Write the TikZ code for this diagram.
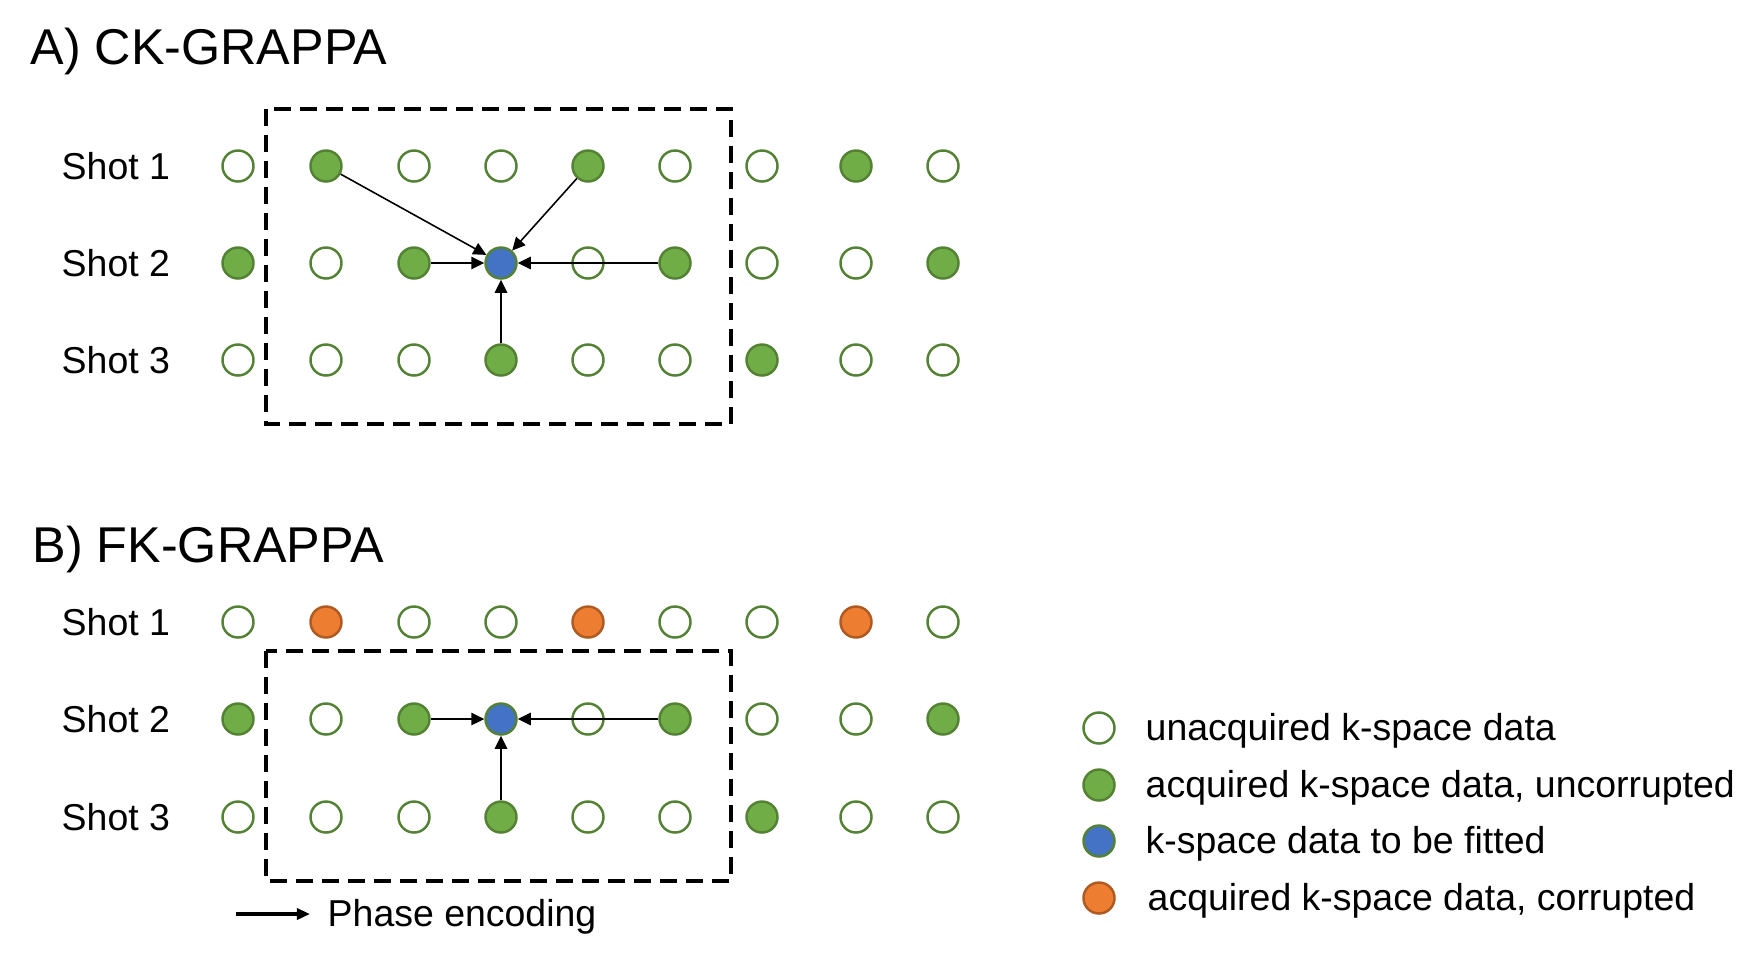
\documentclass[tikz,border=0pt]{standalone}
\usepackage{fontspec}
\setmainfont{Liberation Sans}
\usepackage{xcolor}
\definecolor{fille}{RGB}{255, 255, 255}
\definecolor{linee}{RGB}{84, 130, 53}
\definecolor{fillg}{RGB}{112, 173, 71}
\definecolor{lineg}{RGB}{84, 130, 53}
\definecolor{fillb}{RGB}{68, 114, 196}
\definecolor{lineb}{RGB}{84, 130, 53}
\definecolor{fillo}{RGB}{237, 125, 49}
\definecolor{lineo}{RGB}{174, 90, 33}
\usetikzlibrary{arrows.meta}

\begin{document}
\begin{tikzpicture}[x=0.01cm, y=-0.01cm,
    dot/.style={circle, inner sep=0pt, minimum size=0.31cm, line width=0.7pt, draw=line#1, fill=fill#1},
    lbl/.style={anchor=base west, inner sep=0pt, font=\fontsize{10.65}{12}\selectfont},
    ttl/.style={anchor=base west, inner sep=0pt, font=\fontsize{14.3}{17}\selectfont},
    kbox/.style={dash pattern=on 0.17cm off 0.09cm, line width=1.05pt},
    arr/.style={-{Triangle[length=0.13cm, width=0.125cm]}, line width=0.45pt},
    pearr/.style={-{Triangle[length=0.13cm, width=0.11cm]}, line width=0.95pt}
  ]
    \useasboundingbox (0,0) rectangle (1757,959);

    % titles and row labels
    \node[ttl] (ta) at (30,64) {A) CK-GRAPPA};
    \node[ttl] (tb) at (32,562) {B) FK-GRAPPA};
    \node[lbl] (sa1) at (61,179) {Shot 1};
    \node[lbl] (sa2) at (61,276) {Shot 2};
    \node[lbl] (sa3) at (61,373) {Shot 3};
    \node[lbl] (sb1) at (61,635) {Shot 1};
    \node[lbl] (sb2) at (61,732) {Shot 2};
    \node[lbl] (sb3) at (61,830) {Shot 3};

    % kernels
    \draw[kbox] (266,109) rectangle (731,424);
    \draw[kbox] (266,651) rectangle (731,881);

    % A) CK-GRAPPA grid
    \foreach \x/\t [count=\i] in {238/e,326/g,414/e,501/e,588/g,675/e,762/e,856/g,943/e}
      \node[dot=\t] (a1-\i) at (\x,166) {};
    \foreach \x/\t [count=\i] in {238/g,326/e,414/g,501/b,588/e,675/g,762/e,856/e,943/g}
      \node[dot=\t] (a2-\i) at (\x,263) {};
    \foreach \x/\t [count=\i] in {238/e,326/e,414/e,501/g,588/e,675/e,762/g,856/e,943/e}
      \node[dot=\t] (a3-\i) at (\x,360) {};

    % B) FK-GRAPPA grid
    \foreach \x/\t [count=\i] in {238/e,326/o,414/e,501/e,588/o,675/e,762/e,856/o,943/e}
      \node[dot=\t] (b1-\i) at (\x,622) {};
    \foreach \x/\t [count=\i] in {238/g,326/e,414/g,501/b,588/e,675/g,762/e,856/e,943/g}
      \node[dot=\t] (b2-\i) at (\x,719) {};
    \foreach \x/\t [count=\i] in {238/e,326/e,414/e,501/g,588/e,675/e,762/g,856/e,943/e}
      \node[dot=\t] (b3-\i) at (\x,817) {};

    \draw[arr] (a1-2) -- (a2-4);
    \draw[arr] (a1-5) -- (a2-4);
    \draw[arr] (a2-3) -- (a2-4);
    \draw[arr] (a2-6) -- (a2-4);
    \draw[arr] (a3-4) -- (a2-4);

    \draw[arr] (b2-3) -- (b2-4);
    \draw[arr] (b2-6) -- (b2-4);
    \draw[arr] (b3-4) -- (b2-4);

    % phase encoding direction
    \coordinate (pe-a) at (236,914);
    \coordinate (pe-b) at (310,914);
    \draw[pearr] (pe-a) -- (pe-b);
    \node[lbl] (pe) at (327,926) {Phase encoding};

    % legend
    \node[dot=e] (leg1) at (1099,728) {};
    \node[dot=g] (leg2) at (1099,785) {};
    \node[dot=b] (leg3) at (1099,841) {};
    \node[dot=o] (leg4) at (1099,898) {};
    \node[lbl] (lt1) at (1145,740) {unacquired k-space data};
    \node[lbl] (lt2) at (1145,797) {acquired k-space data, uncorrupted};
    \node[lbl] (lt3) at (1145,853) {k-space data to be fitted};
    \node[lbl] (lt4) at (1147,910) {acquired k-space data, corrupted};
  \end{tikzpicture}
\end{document}
